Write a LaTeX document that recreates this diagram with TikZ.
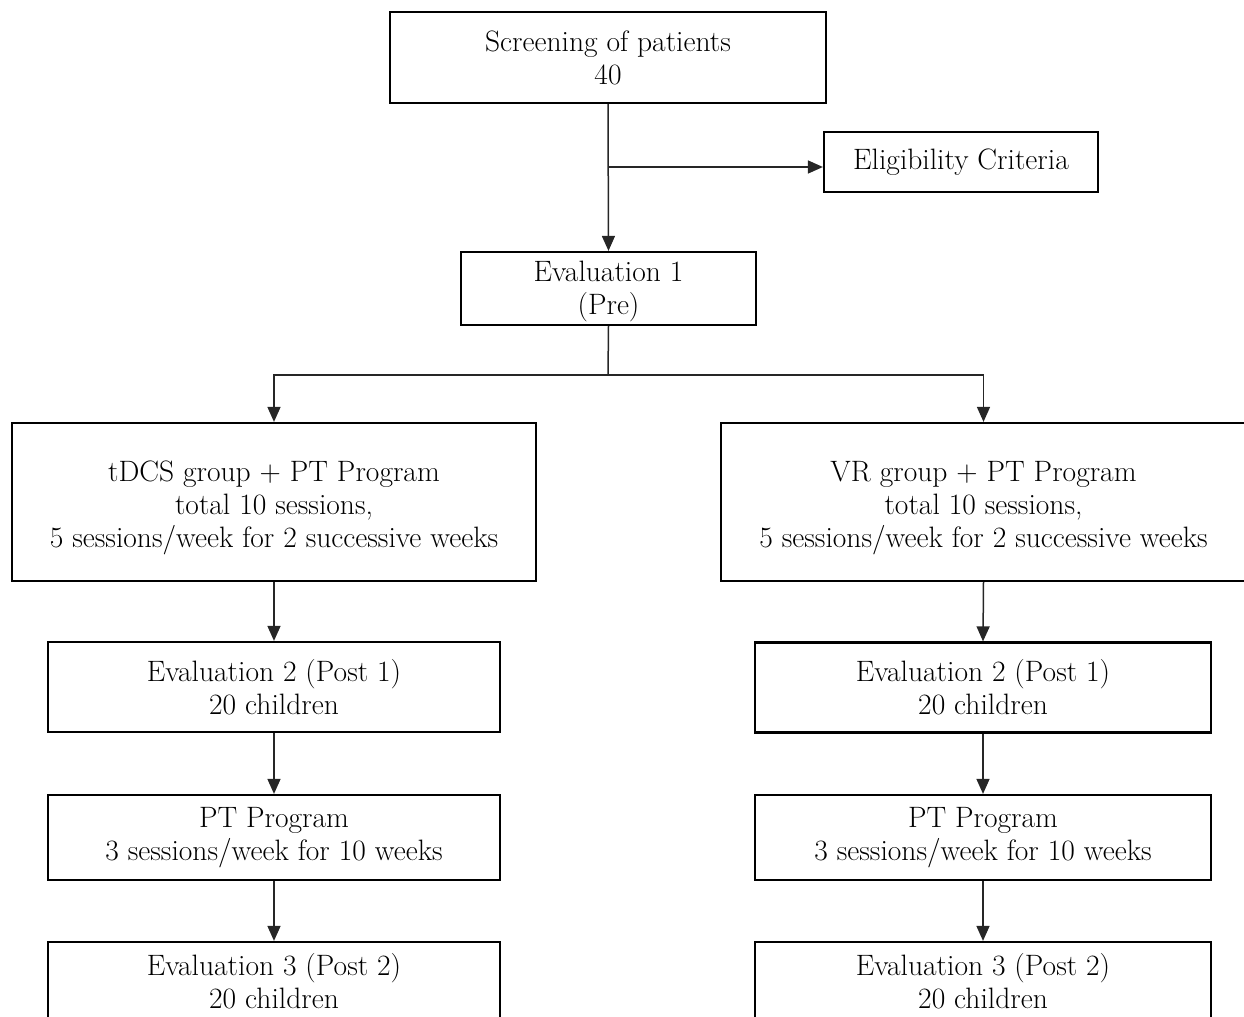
\documentclass[tikz,border=0pt]{standalone}
\usepackage{fontspec}
\usetikzlibrary{arrows.meta}
\tikzset{
  box/.style={draw=black, line width=2.2bp, align=center, inner sep=0pt,
    font=\fontsize{29.5bp}{33bp}\selectfont, text=black},
  conn/.style={draw=black!85, line width=1.5bp, -{Triangle[length=15bp,width=13bp]}},
  plain/.style={draw=black!85, line width=1.5bp}
}
\begin{document}
\begin{tikzpicture}[x=1bp,y=-1bp]
\useasboundingbox (0,0) rectangle (1244,1017);
\clip (0,0) rectangle (1244,1017);
% boxes
\node[box, minimum width=436bp, minimum height=91bp] (scr) at (608,57.5) {Screening of patients\\40};
\node[box, minimum width=274bp, minimum height=60bp] (elig) at (961,162) {Eligibility Criteria};
\node[box, minimum width=295bp, minimum height=73bp] (ev1) at (608.5,288.5) {\rule{0pt}{26bp}Evaluation 1\\(Pre)};
\node[box, minimum width=524bp, minimum height=158bp] (tdcs) at (274,502) {\rule{0pt}{32bp}tDCS group + PT Program\\total 10 sessions,\\5 sessions/week for 2 successive weeks};
\node[box, minimum width=525bp, minimum height=158bp] (vr) at (983.5,502) {\rule{0pt}{32bp}VR group + PT Program\\total 10 sessions,\\5 sessions/week for 2 successive weeks};
\node[box, minimum width=452bp, minimum height=90bp] (ev2l) at (274,687) {Evaluation 2 (Post 1)\\20 children};
\node[box, minimum width=456bp, minimum height=90bp] (ev2r) at (983,687.5) {Evaluation 2 (Post 1)\\20 children};
\node[box, minimum width=452bp, minimum height=85bp] (ptl) at (274,837.5) {PT Program\\3 sessions/week for 10 weeks};
\node[box, minimum width=456bp, minimum height=85bp] (ptr) at (983,837.5) {PT Program\\3 sessions/week for 10 weeks};
\node[box, minimum width=452bp, minimum height=78bp] (ev3l) at (274,981) {Evaluation 3 (Post 2)\\20 children};
\node[box, minimum width=456bp, minimum height=78bp] (ev3r) at (983,981) {Evaluation 3 (Post 2)\\20 children};
% connectors
\coordinate (br) at (608,167);
\coordinate (sp) at (608,375);
\draw[conn] (scr.south) -- (ev1.north);
\draw[conn] (br) -- (elig.west |- br);
\draw[plain] (ev1.south) -- (sp);
\draw[conn] (sp) -| (tdcs.north);
\draw[conn] (sp) -| (vr.north);
\draw[conn] (tdcs.south) -- (ev2l.north);
\draw[conn] (ev2l.south) -- (ptl.north);
\draw[conn] (ptl.south) -- (ev3l.north);
\draw[conn] (vr.south) -- (ev2r.north);
\draw[conn] (ev2r.south) -- (ptr.north);
\draw[conn] (ptr.south) -- (ev3r.north);
\end{tikzpicture}
\end{document}
